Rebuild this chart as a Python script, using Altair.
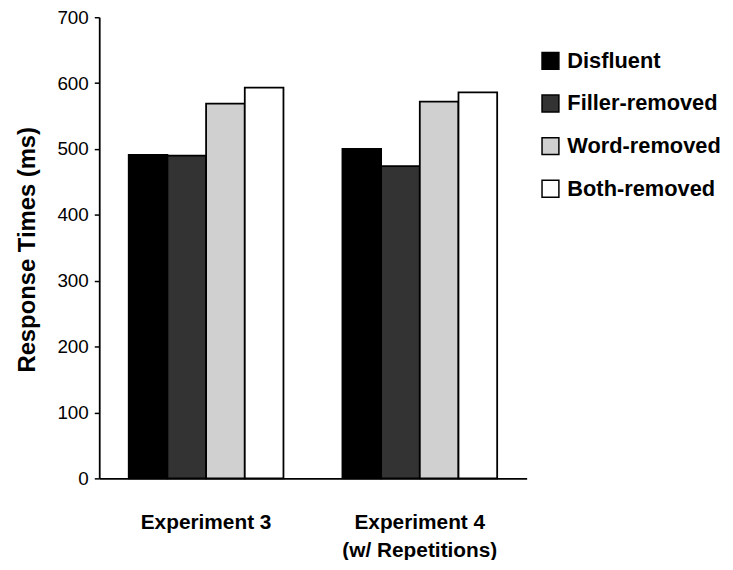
import altair as alt
import pandas as pd

experiments = ["Experiment 3", "Experiment 4\n(w/ Repetitions)"]
conditions = ["Disfluent", "Filler-removed", "Word-removed", "Both-removed"]
exp3_values = [491, 490, 569, 593]
exp4_values = [500, 474, 572, 586]
fills = ["#000000", "#333333", "#d0d0d0", "#ffffff"]
y_ticks = [0, 100, 200, 300, 400, 500, 600, 700]

rows = []
for exp, vals in zip(experiments, [exp3_values, exp4_values]):
    for c, v in zip(conditions, vals):
        rows.append({"experiment": exp, "condition": c, "rt": v})
df = pd.DataFrame(rows)

FONT = "Liberation Sans"

chart = alt.Chart(df).mark_bar(stroke="black", strokeWidth=1.8).encode(
    x=alt.X(
        "experiment:N",
        sort=experiments,
        scale=alt.Scale(paddingInner=0.276, paddingOuter=0.138),
        axis=alt.Axis(
            title=None,
            labelAngle=0,
            ticks=False,
            labelPadding=34,
            labelFont=FONT,
            labelFontSize=21,
            labelFontWeight="bold",
            labelColor="black",
            labelLineHeight=28,
            labelExpr="split(datum.label, '\\n')",
            domainColor="black",
            domainWidth=1.8,
        ),
    ),
    xOffset=alt.XOffset("condition:N", sort=conditions, scale=alt.Scale(paddingInner=0, paddingOuter=0)),
    y=alt.Y(
        "rt:Q",
        scale=alt.Scale(domain=[0, 700], nice=False),
        axis=alt.Axis(
            title="Response Times (ms)",
            values=y_ticks,
            grid=False,
            tickSize=5,
            tickColor="black",
            tickWidth=1.5,
            domainColor="black",
            domainWidth=1.8,
            labelFont=FONT,
            labelFontSize=19,
            labelColor="black",
            labelPadding=6,
            titleFont=FONT,
            titleFontSize=24,
            titleFontWeight="bold",
            titleColor="black",
            titleX=-72,
            titleY=234,
            titleAngle=-90,
            titleAlign="center",
            titleBaseline="middle",
        ),
    ),
    fill=alt.Fill(
        "condition:N",
        sort=conditions,
        scale=alt.Scale(domain=conditions, range=fills),
        legend=alt.Legend(
            title=None,
            orient="none",
            legendX=444,
            legendY=33,
            symbolType="square",
            symbolSize=289,
            symbolStrokeColor="black",
            symbolStrokeWidth=1.5,
            labelFont=FONT,
            labelFontSize=22,
            labelFontWeight="bold",
            labelColor="black",
            labelOffset=6,
            rowPadding=19,
            labelLimit=300,
        ),
    ),
).properties(
    width=431,
    height=465,
    autosize=alt.AutoSizeParams(type="none"),
    padding={"left": 92, "top": 7, "right": 200, "bottom": 80},
).configure_view(stroke=None)

chart.save("out.html", embed_options={"renderer": "svg", "actions": False})
